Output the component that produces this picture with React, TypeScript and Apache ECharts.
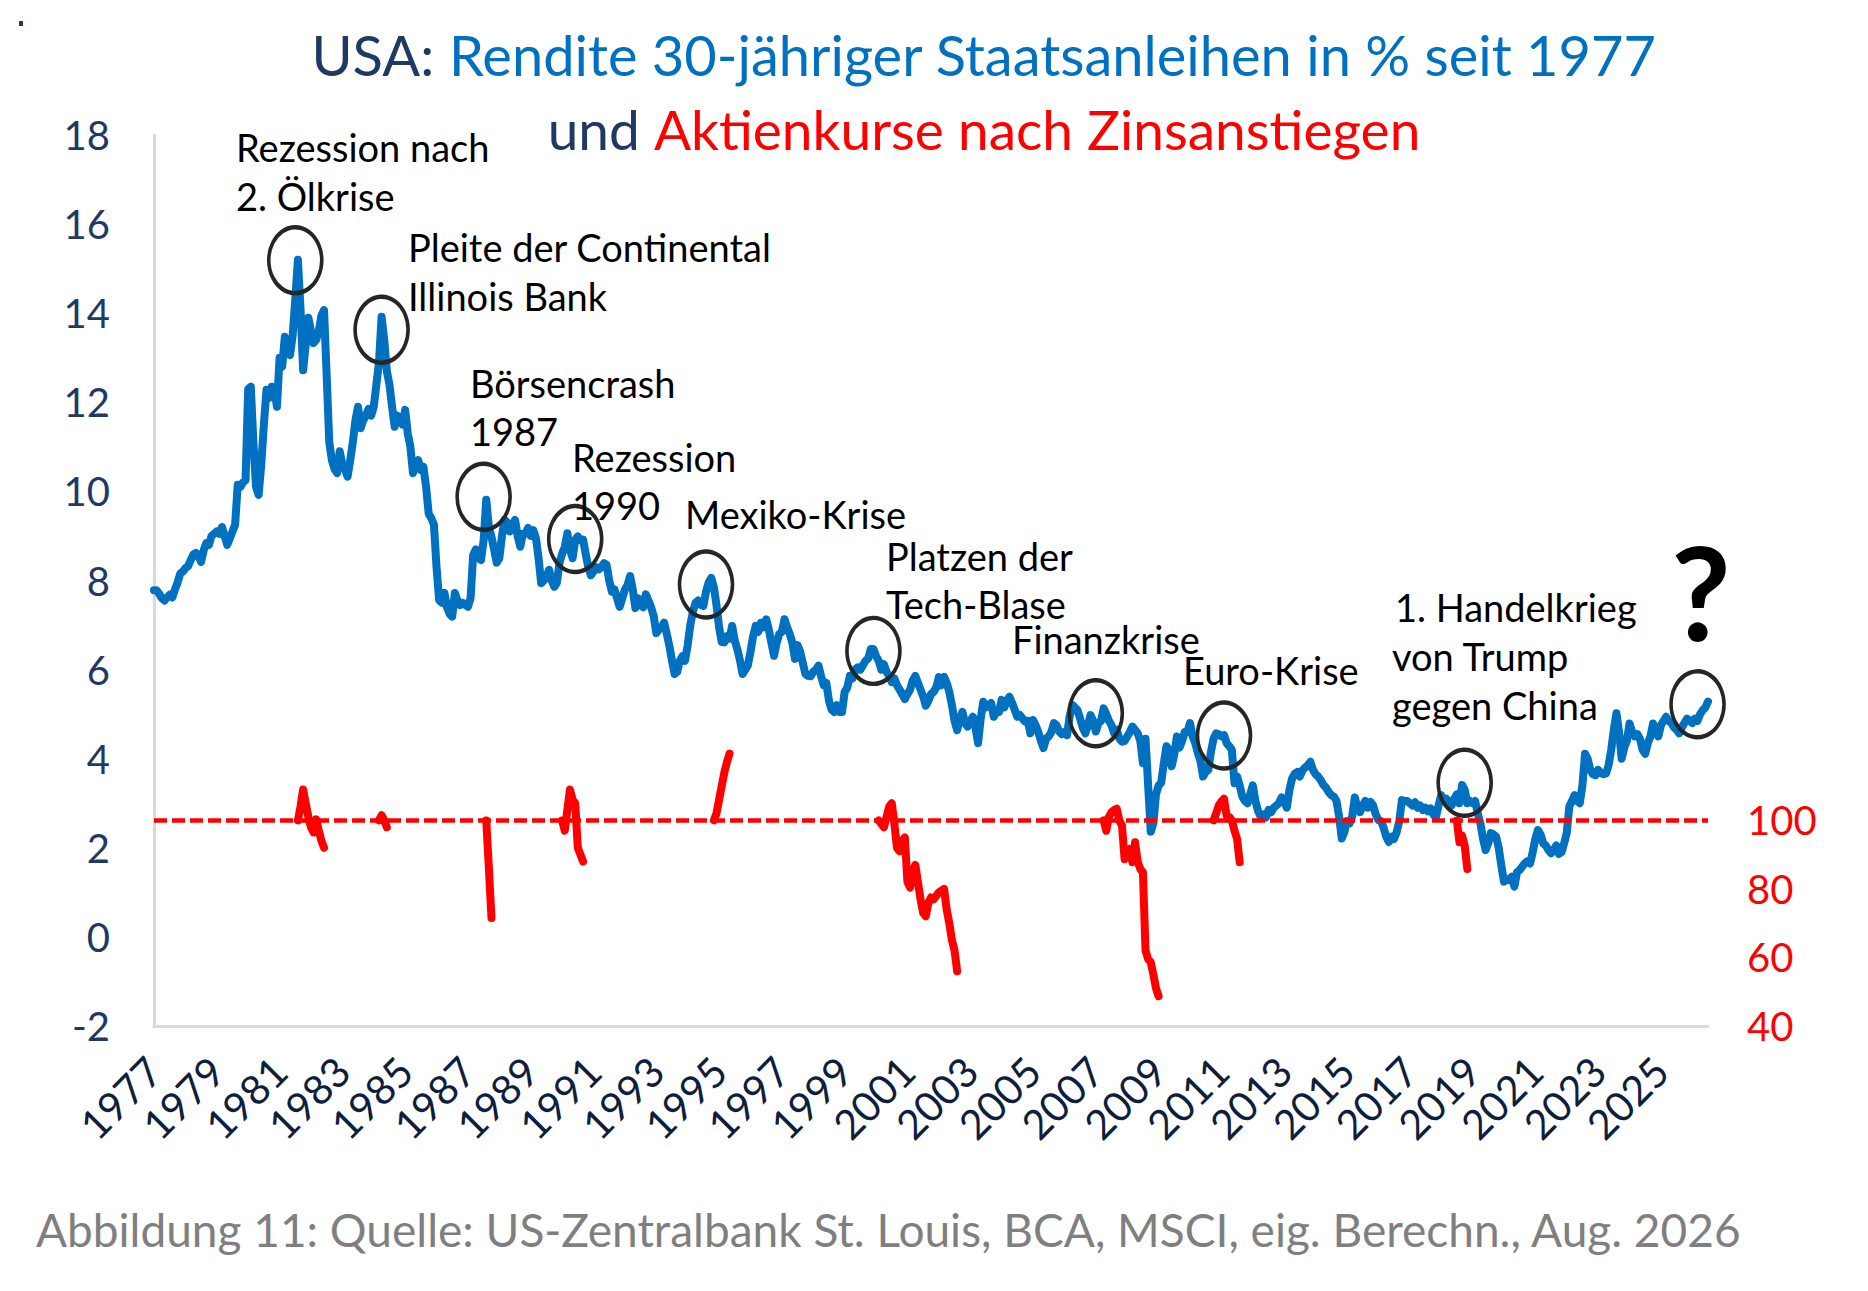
import React, { useEffect, useRef } from "react";
import * as echarts from "echarts";

// ---------- DATA ----------
// US 30y Treasury yield, monthly, Feb 1977 – Aug 2026
const START_YEAR = 1977;
const START_MONTH = 2;

const yields1977to1986: number[] = [
  7.78, 7.78, 7.70, 7.60, 7.55, 7.62, 7.68, 7.62, 7.80, 7.95, 8.15, // 1977 (Feb-Dec)
  8.20, 8.28, 8.32, 8.45, 8.58, 8.62, 8.55, 8.42, 8.68, 8.84, 8.80, 9.00, // 1978
  9.05, 9.10, 9.05, 9.20, 9.00, 8.80, 8.95, 9.10, 9.25, 10.15, 10.10, 10.20, // 1979
  10.25, 12.30, 12.35, 11.10, 10.10, 9.92, 10.60, 11.50, 12.28, 12.10, 12.35, 12.30, // 1980
  11.90, 13.00, 12.80, 13.47, 13.25, 13.06, 13.50, 14.30, 15.20, 14.10, 12.72, 13.30, // 1981
  13.90, 13.60, 13.33, 13.40, 13.60, 13.95, 14.07, 12.60, 11.10, 10.70, 10.50, 10.41, // 1982
  10.90, 10.60, 10.50, 10.33, 10.70, 11.10, 11.60, 11.90, 11.42, 11.60, 11.70, 11.85, // 1983
  11.70, 11.90, 12.40, 12.90, 13.92, 13.40, 12.70, 12.40, 11.90, 11.45, 11.70, 11.60, // 1984
  11.50, 11.83, 11.30, 11.00, 10.41, 10.60, 10.70, 10.48, 10.55, 10.10, 9.50, 9.40, // 1985
  9.25, 8.30, 7.56, 7.50, 7.72, 7.40, 7.25, 7.19, 7.72, 7.55, 7.45, 7.50, // 1986
];
const yields1987to1996: number[] = [
  7.45, 7.41, 7.60, 8.57, 8.70, 8.50, 8.46, 8.90, 9.81, 9.20, 8.98, 8.70, // 1987
  8.40, 8.50, 9.00, 9.36, 9.30, 9.10, 9.25, 9.36, 9.00, 8.76, 9.05, 9.05, // 1988
  9.18, 9.00, 9.13, 8.95, 8.50, 7.94, 8.00, 8.10, 8.24, 8.00, 7.86, 7.95, // 1989
  8.40, 8.60, 8.75, 9.06, 8.70, 8.50, 8.91, 8.99, 8.90, 8.92, 8.60, 8.30, // 1990
  8.12, 8.20, 8.30, 8.25, 8.30, 8.39, 8.35, 8.00, 7.75, 7.80, 7.60, 7.41, // 1991
  7.60, 7.80, 7.90, 8.10, 7.80, 7.38, 7.60, 7.45, 7.40, 7.69, 7.55, 7.40, // 1992
  7.20, 6.82, 6.90, 6.95, 7.05, 6.80, 6.53, 6.20, 5.90, 5.95, 6.20, 6.30, // 1993
  6.20, 6.55, 7.00, 7.30, 7.50, 7.55, 7.45, 7.43, 7.75, 7.95, 8.06, 7.85, // 1994
  7.45, 6.95, 6.62, 6.61, 6.75, 6.70, 6.98, 6.65, 6.45, 6.20, 5.90, 6.00, // 1995
  6.10, 6.40, 6.75, 6.98, 6.85, 7.05, 6.95, 7.13, 6.90, 6.60, 6.31, 6.60, // 1996
];
const yields1997to2006: number[] = [
  6.80, 6.85, 7.13, 6.95, 6.80, 6.60, 6.24, 6.55, 6.40, 6.15, 5.90, 5.86, // 1997
  5.85, 5.95, 6.00, 6.09, 5.85, 5.65, 5.70, 5.30, 5.10, 5.05, 5.20, 5.05, // 1998
  5.05, 5.50, 5.60, 5.86, 5.80, 6.00, 6.05, 6.00, 6.10, 6.20, 6.25, 6.46, // 1999
  6.46, 6.30, 6.20, 6.00, 6.12, 5.95, 5.85, 5.72, 5.80, 5.65, 5.55, 5.45, // 2000
  5.34, 5.45, 5.55, 5.75, 5.86, 5.70, 5.55, 5.40, 5.19, 5.30, 5.45, 5.50, // 2001
  5.60, 5.83, 5.65, 5.84, 5.70, 5.50, 5.20, 4.85, 4.64, 4.90, 5.05, 4.80, // 2002
  4.72, 4.85, 4.94, 4.70, 4.35, 4.90, 5.28, 5.15, 5.20, 5.25, 4.94, 5.05, // 2003
  5.05, 5.32, 5.15, 5.30, 5.39, 5.25, 5.10, 4.94, 4.98, 4.90, 4.83, 4.85, // 2004
  4.57, 4.87, 4.75, 4.60, 4.40, 4.24, 4.45, 4.50, 4.60, 4.80, 4.75, 4.61, // 2005
  4.55, 4.60, 4.53, 4.95, 5.21, 5.15, 5.09, 4.90, 4.70, 4.57, 4.75, 4.98, // 2006
];
const yields2007to2016: number[] = [
  4.85, 4.61, 4.80, 4.85, 5.13, 5.00, 4.85, 4.75, 4.57, 4.65, 4.45, 4.38, // 2007
  4.40, 4.50, 4.60, 4.72, 4.65, 4.57, 4.40, 3.90, 4.45, 3.40, 2.36, 2.55, // 2008
  3.20, 3.40, 3.46, 3.90, 4.28, 4.20, 3.83, 4.10, 4.50, 4.25, 4.40, 4.60, // 2009
  4.60, 4.80, 4.50, 4.35, 4.13, 3.95, 3.60, 3.70, 3.75, 4.15, 4.45, 4.57, // 2010
  4.55, 4.50, 4.53, 4.35, 4.28, 4.20, 3.45, 3.60, 3.40, 3.15, 3.05, 3.00, // 2011
  3.20, 3.40, 3.05, 2.83, 2.70, 2.75, 2.68, 2.85, 2.80, 2.90, 2.95, 3.00, // 2012
  3.13, 3.05, 2.90, 3.30, 3.55, 3.66, 3.70, 3.60, 3.74, 3.80, 3.85, 3.93, // 2013
  3.75, 3.65, 3.60, 3.52, 3.41, 3.35, 3.25, 3.18, 3.15, 3.05, 2.70, 2.21, // 2014
  2.35, 2.60, 2.55, 2.70, 3.13, 2.90, 2.80, 2.95, 3.05, 2.90, 3.03, 2.95, // 2015
  2.75, 2.62, 2.60, 2.45, 2.25, 2.13, 2.25, 2.20, 2.35, 2.60, 3.07, 3.05, // 2016
];
const yields2017to2026: number[] = [
  3.05, 3.00, 2.95, 3.02, 2.90, 2.95, 2.85, 2.90, 2.82, 2.88, 2.75, 2.68, // 2017
  2.95, 3.18, 3.05, 3.10, 3.00, 2.95, 3.10, 3.20, 3.00, 3.41, 3.30, 3.00, // 2018
  3.05, 3.00, 3.05, 2.77, 2.55, 2.20, 1.95, 2.10, 2.33, 2.30, 2.25, 2.00, // 2019
  1.60, 1.24, 1.30, 1.28, 1.35, 1.13, 1.45, 1.50, 1.58, 1.65, 1.70, 1.65, // 2020
  1.90, 2.20, 2.40, 2.30, 2.10, 2.05, 1.95, 1.88, 1.95, 2.05, 1.86, 1.90, // 2021
  2.10, 2.33, 2.93, 3.05, 3.18, 3.05, 3.00, 3.40, 4.11, 4.00, 3.75, 3.65, // 2022
  3.63, 3.75, 3.68, 3.65, 3.67, 3.85, 4.20, 4.65, 5.02, 4.60, 4.00, 4.25, // 2023
  4.40, 4.79, 4.60, 4.50, 4.55, 4.45, 4.20, 4.11, 4.35, 4.50, 4.79, 4.60, // 2024
  4.50, 4.75, 4.85, 4.94, 4.85, 4.80, 4.70, 4.65, 4.57, 4.70, 4.80, 4.90, // 2025
  4.85, 4.80, 4.90, 4.85, 5.00, 5.09, 5.15, 5.28, // 2026 (Jan-Aug)
];

// Stock prices (index = 100 at the rate peak) after rate rises
const stocks1981 = { start: "1981-09", values: [100, 104, 109, 105, 101, 98, 96.5, 100.3, 97, 94, 92] };
const stocks1984 = { start: "1984-04", values: [100, 101.5, 100, 98] };
const stocks1987 = { start: "1987-09", values: [100, 86, 71.5] };
const stocks1990 = { start: "1990-02", values: [100, 97, 103, 109, 106, 105, 92, 90, 88] };
const stocks1994 = { start: "1994-12", values: [100, 102, 106, 110, 114, 117, 119.5] };
const stocks2000 = {
  start: "2000-03",
  values: [100, 99, 98, 101, 104, 105, 99, 92, 91, 94, 95, 82, 80.4, 85, 87, 82, 77, 73, 72, 76, 77.5, 77, 78, 79, 79.5, 80, 74, 70, 65, 62, 56],
};
const stocks2007 = {
  start: "2007-05",
  values: [100, 97, 101, 102.4, 103, 103.4, 100, 98.5, 88.7, 90, 91.7, 87.8, 93.6, 88, 85.8, 84.9, 62, 59.5, 58.6, 55, 51, 48.7],
};
const stocks2010 = { start: "2010-11", values: [100, 102, 104.4, 105.5, 106.3, 101.4, 101, 100, 97, 94.6, 87.8] };
const stocks2018 = { start: "2018-08", values: [100, 93.6, 95.6, 92.6, 85.8] };

// Circled rate peaks [month, yield]
const circledPeaks: [string, number][] = [
  ["1981-08", 15.19],
  ["1984-05", 13.63],
  ["1987-08", 9.88],
  ["1990-07", 8.93],
  ["1994-09", 7.91],
  ["2000-01", 6.42],
  ["2007-02", 5.02],
  ["2011-03", 4.52],
  ["2018-11", 3.46],
  ["2026-04", 5.22],
];

const leftTicks = { min: -2, max: 18, step: 2 };
const rightTicks = { min: 40, max: 300, step: 20, lastShown: 100 };

// ---------- derived ----------
const yields: number[] = [
  ...yields1977to1986,
  ...yields1987to1996,
  ...yields1997to2006,
  ...yields2007to2016,
  ...yields2017to2026,
];
const months: string[] = yields.map((_, i) => {
  const m = START_MONTH - 1 + i;
  const y = START_YEAR + Math.floor(m / 12);
  const mm = (m % 12) + 1;
  return `${y}-${String(mm).padStart(2, "0")}`;
});
const stocks: (number | null)[] = months.map(() => null);
[stocks1981, stocks1984, stocks1987, stocks1990, stocks1994, stocks2000, stocks2007, stocks2010, stocks2018].forEach((ep) => {
  const s = months.indexOf(ep.start);
  ep.values.forEach((v, k) => {
    stocks[s + k] = v;
  });
});

const FONT = "Lato";
const NAVY = "#1F3864";
const BLUE = "#0070C0";
const RED = "#FF0000";

function annotation(text: string, x: number, y: number) {
  return {
    type: "text",
    x,
    y,
    z: 100,
    style: {
      text,
      fill: "#000000",
      fontSize: 38,
      fontFamily: FONT,
      align: "left",
      verticalAlign: "middle",
    },
  };
}

export default function App() {
  const ref = useRef<HTMLDivElement>(null);

  useEffect(() => {
    if (!ref.current) return;
    const chart = echarts.init(ref.current, undefined, { renderer: "svg" });

    const option: any = {
      animation: false,
      backgroundColor: "#FFFFFF",
      grid: { left: 154, right: 160, top: 135, bottom: 265, containLabel: false },
      xAxis: {
        type: "category",
        data: months,
        boundaryGap: false,
        axisLine: { show: true, onZero: false, lineStyle: { color: "#D9D9D9", width: 3 } },
        axisTick: { show: false },
        splitLine: { show: false },
        axisLabel: {
          interval: 23,
          rotate: 45,
          margin: 38,
          color: "#0E1E3C",
          fontSize: 41,
          fontFamily: FONT,
          formatter: (v: string) => v.slice(0, 4),
        },
      },
      yAxis: [
        {
          type: "value",
          min: leftTicks.min,
          max: leftTicks.max,
          interval: leftTicks.step,
          axisLine: { show: true, onZero: false, lineStyle: { color: "#D9D9D9", width: 3 } },
          axisTick: { show: false },
          splitLine: { show: false },
          axisLabel: { color: NAVY, fontSize: 40, fontFamily: FONT, margin: 44 },
        },
        {
          type: "value",
          min: rightTicks.min,
          max: rightTicks.max,
          interval: rightTicks.step,
          position: "right",
          axisLine: { show: false },
          axisTick: { show: false },
          splitLine: { show: false },
          axisLabel: {
            color: RED,
            fontSize: 40,
            fontFamily: FONT,
            margin: 39,
            formatter: (v: number) => (v <= rightTicks.lastShown ? String(v) : ""),
          },
        },
      ],
      series: [
        {
          name: "Aktienkurse",
          type: "line",
          yAxisIndex: 1,
          data: stocks,
          connectNulls: false,
          showSymbol: false,
          symbol: "none",
          z: 2,
          lineStyle: { color: RED, width: 8, cap: "round", join: "round" },
          markLine: {
            silent: true,
            symbol: ["none", "none"],
            label: { show: false },
            lineStyle: { color: RED, width: 4.5, type: [13, 5] },
            data: [{ yAxis: 100 }],
          },
        },
        {
          name: "Rendite",
          type: "line",
          yAxisIndex: 0,
          data: yields,
          showSymbol: false,
          symbol: "none",
          z: 3,
          lineStyle: { color: BLUE, width: 8, join: "round", cap: "round" },
          markPoint: {
            silent: true,
            symbol: "circle",
            symbolSize: [53, 66],
            label: { show: false },
            itemStyle: { color: "rgba(0,0,0,0)", borderColor: "#262626", borderWidth: 4 },
            data: circledPeaks.map(([m, v]) => ({ coord: [m, v] })),
          },
        },
      ],
      graphic: [
        { type: "rect", shape: { x: 19, y: 21, width: 4, height: 5 }, style: { fill: NAVY } },
        {
          type: "text",
          x: 984,
          y: 54,
          style: {
            text: "{n|USA:} {b|Rendite 30-jähriger Staatsanleihen in % seit 1977}",
            align: "center",
            verticalAlign: "middle",
            fontSize: 56,
            fontFamily: FONT,
            rich: {
              n: { fill: NAVY, color: NAVY, fontSize: 56, fontFamily: FONT },
              b: { fill: BLUE, color: BLUE, fontSize: 56, fontFamily: FONT },
            },
          },
        },
        {
          type: "text",
          x: 984,
          y: 129,
          style: {
            text: "{n|und} {r|Aktienkurse nach Zinsanstiegen}",
            align: "center",
            verticalAlign: "middle",
            fontSize: 55,
            fontFamily: FONT,
            rich: {
              n: { fill: NAVY, color: NAVY, fontSize: 55, fontFamily: FONT },
              r: { fill: RED, color: RED, fontSize: 55, fontFamily: FONT },
            },
          },
        },
        annotation("Rezession nach", 236, 147),
        annotation("2. Ölkrise", 236, 196),
        annotation("Pleite der Continental", 408, 247),
        annotation("Illinois Bank", 408, 296),
        annotation("Börsencrash", 470, 383),
        annotation("1987", 470, 431),
        annotation("Rezession", 572, 457),
        annotation("1990", 572, 505),
        annotation("Mexiko-Krise", 685, 514),
        annotation("Platzen der", 886, 556),
        annotation("Tech-Blase", 886, 604),
        annotation("Finanzkrise", 1012, 639),
        annotation("Euro-Krise", 1183, 670),
        annotation("1. Handelkrieg", 1395, 607),
        annotation("von Trump", 1392, 656),
        annotation("gegen China", 1392, 705),
        {
          type: "text",
          x: 1701,
          y: 591,
          z: 100,
          style: {
            text: "?",
            fill: "#000000",
            fontSize: 130,
            fontWeight: "bold",
            fontFamily: FONT,
            align: "center",
            verticalAlign: "middle",
          },
        },
        {
          type: "text",
          x: 36,
          y: 1229,
          style: {
            text: "Abbildung 11: Quelle: US-Zentralbank St. Louis, BCA, MSCI, eig. Berechn., Aug. 2026",
            fill: "#7F7F7F",
            fontSize: 46,
            fontFamily: FONT,
            align: "left",
            verticalAlign: "middle",
          },
        },
      ],
    };

    chart.setOption(option);
    return () => chart.dispose();
  }, []);

  return (
    <div
      ref={ref}
      style={{ position: "fixed", left: 0, top: 0, width: 1868, height: 1291, background: "#fff" }}
    />
  );
}
